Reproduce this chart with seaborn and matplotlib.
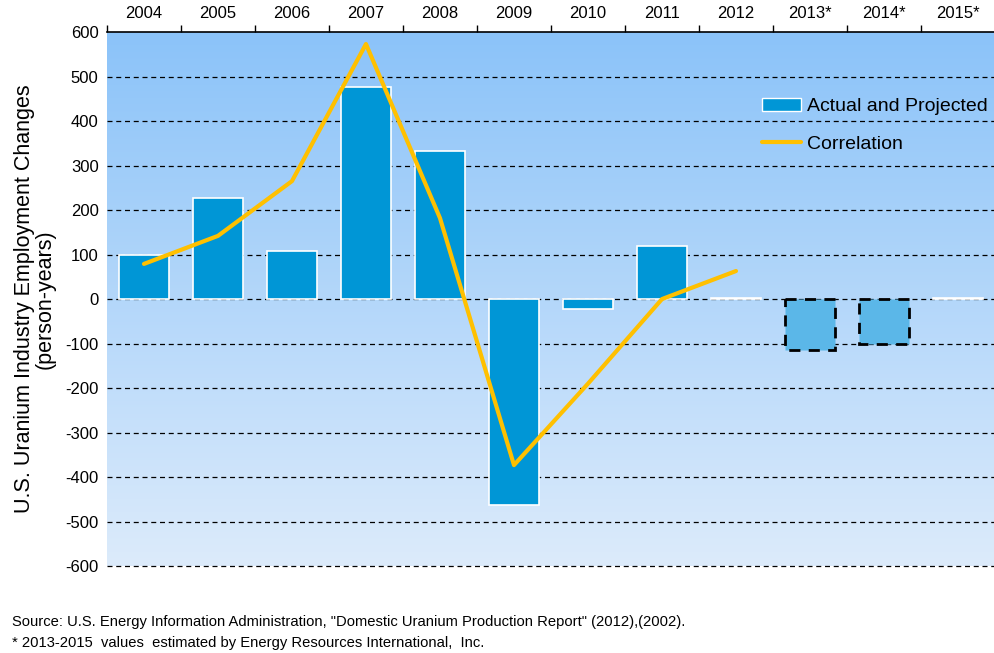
import matplotlib
matplotlib.use('Agg')
import matplotlib.pyplot as plt
import seaborn as sns
import numpy as np
import pandas as pd
from matplotlib.patches import Patch
from matplotlib.lines import Line2D

# data
years = ['2004', '2005', '2006', '2007', '2008', '2009', '2010', '2011',
         '2012', '2013*', '2014*', '2015*']
changes = [98, 227, 108, 476, 333, -463, -22, 119, 2, -115, -101, 2]
corr_years = ['2004', '2005', '2006', '2007', '2008', '2009', '2010', '2011', '2012']
correlation = [79, 142, 265, 573, 182, -373, -190, 0, 63]
projected = ['2013*', '2014*']

sns.set_style('white')
plt.rcParams['font.family'] = ['Liberation Sans', 'DejaVu Sans']
plt.rcParams['axes.unicode_minus'] = False

fig = plt.figure(figsize=(9.95, 6.53), dpi=100)
ax = fig.add_axes([0.1075, 0.133, 0.8925, 0.818])

# gradient background, darker at the top
grad = np.linspace(0, 1, 256).reshape(-1, 1)
cmap = matplotlib.colors.LinearSegmentedColormap.from_list('bg', ['#8bc3f9', '#dcebfb'])
ax.imshow(grad, aspect='auto', cmap=cmap, origin='upper',
          extent=(-0.5, 11.5, -600, 600), zorder=0)

df = pd.DataFrame({'year': years, 'change': changes})
sns.barplot(data=df, x='year', y='change', color='#0096d6', saturation=1,
            width=0.67, edgecolor='white', linewidth=1.2, ax=ax, zorder=3)

for patch, yr in zip(ax.patches, years):
    if yr in projected:
        patch.set_facecolor('#5bb7e8')
        patch.set_edgecolor('black')
        patch.set_linestyle((0, (4, 3)))
        patch.set_linewidth(2)

cdf = pd.DataFrame({'x': np.arange(len(corr_years)), 'corr': correlation})
sns.lineplot(data=cdf, x='x', y='corr', color='#ffc000', linewidth=3, ax=ax, zorder=4)

ax.set_xlim(-0.5, 11.5)
ax.set_ylim(-600, 600)
ax.set_yticks(np.arange(-600, 601, 100))
ax.tick_params(axis='y', labelsize=12, length=0, pad=6, labelcolor='black')
for v in np.arange(-600, 600, 100):
    ax.axhline(v, color='black', linestyle=(0, (4, 3)), linewidth=0.9, zorder=2,
               clip_on=False)

ax.xaxis.tick_top()
ax.set_xticks(np.arange(len(years)))
ax.set_xticklabels(years)
ax.set_xticks(np.arange(-0.5, 11.6, 1), minor=True)
ax.tick_params(axis='x', which='major', length=0, labelsize=12, pad=8, labelcolor='black')
ax.tick_params(axis='x', which='minor', length=5, width=1, color='black', direction='out')
ax.set_xlabel('')
ax.set_ylabel('U.S. Uranium Industry Employment Changes\n(person-years)', fontsize=15.5,
              linespacing=1.0, labelpad=7, color='black')

for s in ['left', 'right', 'bottom']:
    ax.spines[s].set_visible(False)
ax.spines['top'].set_color('black')
ax.spines['top'].set_linewidth(1.2)

handles = [Patch(facecolor='#0096d6', edgecolor='white', linewidth=1),
           Line2D([0], [0], color='#ffc000', linewidth=3)]
leg = ax.legend(handles, ['Actual and Projected', 'Correlation'], loc='upper right',
                bbox_to_anchor=(1.012, 0.91), frameon=False, fontsize=14,
                handlelength=2.0, handletextpad=0.35, labelspacing=1.05)
for t in leg.get_texts():
    t.set_color('black')

foot = ['Liberation Sans Narrow', 'Liberation Sans', 'DejaVu Sans']
fig.text(0.012, 0.047, 'Source: U.S. Energy Information Administration, "Domestic Uranium Production Report" (2012),(2002).',
         fontsize=10.6, family=foot, va='center', color='black')
fig.text(0.012, 0.015, '* 2013-2015  values  estimated by Energy Resources International,  Inc.',
         fontsize=10.6, family=foot, va='center', color='black')

fig.savefig('out.png', dpi=100)
